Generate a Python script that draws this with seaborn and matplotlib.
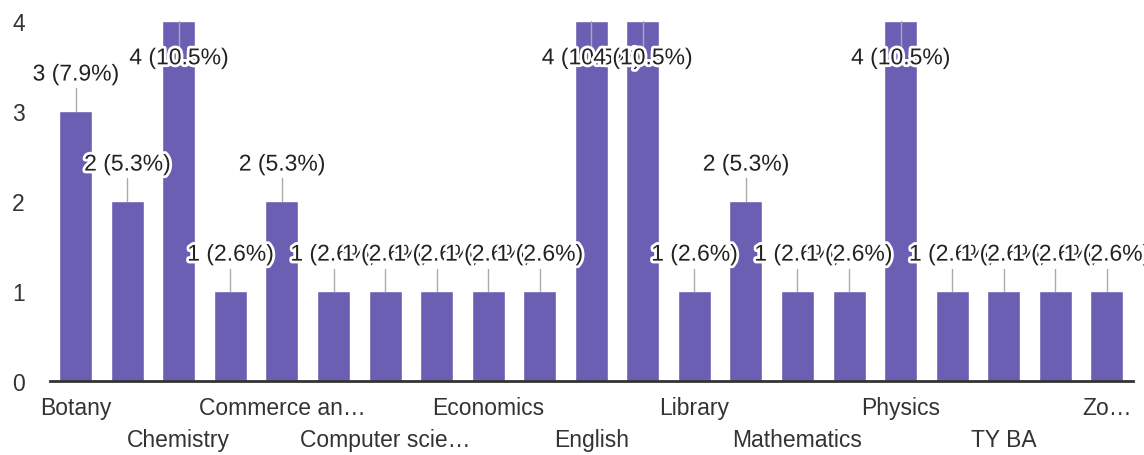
import numpy as np
import pandas as pd
import seaborn as sns
import matplotlib.pyplot as plt
import matplotlib.patheffects as pe

# responses per department (21 answers, only every other name is shown on the axis)
counts = [3, 2, 4, 1, 2, 1, 1, 1, 1, 1, 4, 4, 1, 2, 1, 1, 4, 1, 1, 1, 1]
tick_labels = ["Botany", "", "Chemistry", "", "Commerce an\u2026", "", "Computer scie\u2026", "",
               "Economics", "", "English", "", "Library", "", "Mathematics", "",
               "Physics", "", "TY BA", "", "Zo\u2026"]
y_ticks = [0, 1, 2, 3, 4]

total = sum(counts)
df = pd.DataFrame({"idx": np.arange(len(counts)), "count": counts})

sns.set_theme(style="white")
plt.rcParams['font.family'] = ['Liberation Sans', 'DejaVu Sans']

fig = plt.figure(figsize=(11.44, 4.56), dpi=100)
ax = fig.add_axes([0.0437, 0.162, 0.9463, 0.79])

bar_color = "#6B5FB3"
sns.barplot(data=df, x="idx", y="count", color=bar_color, saturation=1,
            width=0.64, ax=ax, zorder=2)

ax.set_xlim(-0.5, len(counts) - 0.5)
ax.set_ylim(0, 4)
ax.set_yticks(y_ticks)
ax.set_yticklabels([str(t) for t in y_ticks], fontsize=16.5, color="#333333")
ax.tick_params(axis="y", length=0, pad=18)

# alternate the shown names over two rows like the original
shown = []
k = 0
for lab in tick_labels:
    if lab:
        shown.append(lab if k % 2 == 0 else "\n" + lab)
        k += 1
    else:
        shown.append("")
ax.set_xticks(range(len(counts)))
ax.set_xticklabels(shown, fontsize=16.5, color="#333333", linespacing=1.45)
ax.tick_params(axis="x", length=0, pad=11)
ax.set_xlabel("")
ax.set_ylabel("")

for s in ["top", "right", "left"]:
    ax.spines[s].set_visible(False)
ax.spines["bottom"].set_color("#333333")
ax.spines["bottom"].set_linewidth(2)
ax.spines["bottom"].set_zorder(3)

# annotations: count (percent) with a small stem
halo = [pe.withStroke(linewidth=4, foreground="white")]
for i, c in enumerate(counts):
    pct = c / total * 100
    label = f"{c} ({pct:.1f}%)"
    if c + 0.45 < 4:
        ax.plot([i, i], [c, c + 0.25], color="#aaaaaa", lw=1, zorder=3)
        ty = c + 0.41
    else:
        ax.plot([i, i], [c, c - 0.3], color="#aaaaaa", lw=1, zorder=3)
        ty = c - 0.41
    ax.text(i, ty, label, ha="center", va="center", fontsize=16.5,
            color="#222222", path_effects=halo, zorder=4)

fig.savefig("out.png", dpi=100)
